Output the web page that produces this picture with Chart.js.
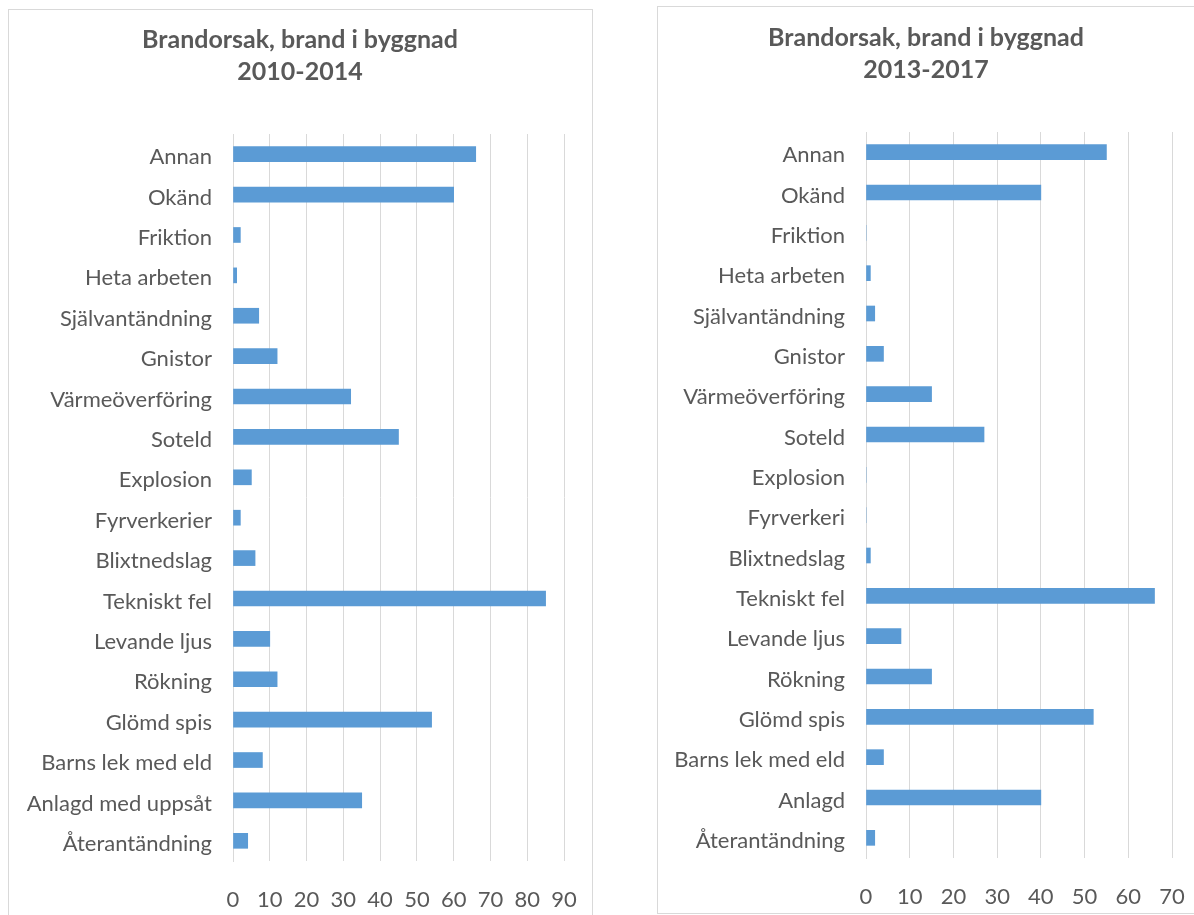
<!DOCTYPE html>
<html>
<head>
<meta charset="utf-8">
<script src="https://cdn.jsdelivr.net/npm/chart.js@4"></script>
<style>
  html, body { margin: 0; padding: 0; background: #ffffff; overflow: hidden; }
  body { width: 1194px; height: 915px; position: relative; }
  .box { position: absolute; border: 1px solid #d9d9d9; background: #fff; box-sizing: border-box; }
  #box1 { left: 8px; top: 9px; width: 585px; height: 930px; }
  #box2 { left: 657px; top: 6px; width: 560px; height: 908px; }
  canvas { position: absolute; }
  #c1 { left: 9px; top: 10px; }
  #c2 { left: 658px; top: 7px; }
</style>
</head>
<body>
<div class="box" id="box1"></div>
<div class="box" id="box2"></div>
<canvas id="c1" width="582" height="905"></canvas>
<canvas id="c2" width="536" height="905"></canvas>
<script>
const titleLeft = ["Brandorsak, brand i byggnad", "2010-2014"];
const titleRight = ["Brandorsak, brand i byggnad", "2013-2017"];

const categoriesLeft = ["Annan", "Okänd", "Friktion", "Heta arbeten", "Självantändning", "Gnistor",
  "Värmeöverföring", "Soteld", "Explosion", "Fyrverkerier", "Blixtnedslag", "Tekniskt fel",
  "Levande ljus", "Rökning", "Glömd spis", "Barns lek med eld", "Anlagd med uppsåt", "Återantändning"];
const valuesLeft = [66, 60, 2, 1, 7, 12, 32, 45, 5, 2, 6, 85, 10, 12, 54, 8, 35, 4];

const categoriesRight = ["Annan", "Okänd", "Friktion", "Heta arbeten", "Självantändning", "Gnistor",
  "Värmeöverföring", "Soteld", "Explosion", "Fyrverkeri", "Blixtnedslag", "Tekniskt fel",
  "Levande ljus", "Rökning", "Glömd spis", "Barns lek med eld", "Anlagd", "Återantändning"];
const valuesRight = [55, 40, 0, 1, 2, 4, 15, 27, 0, 0, 1, 66, 8, 15, 52, 4, 40, 2];

const maxLeft = 90;
const maxRight = 70;

const TEXT = '#595959';
const GRID = '#d9d9d9';
const BAR = '#5b9bd5';
const FONT = 'Lato, "Open Sans", sans-serif';

function makeChart(id, title, labels, values, max, yWidth, padRight, titleTop) {
  return new Chart(document.getElementById(id), {
    type: 'bar',
    data: {
      labels: labels,
      datasets: [{
        data: values,
        backgroundColor: BAR,
        borderWidth: 0,
        barThickness: 15
      }]
    },
    options: {
      indexAxis: 'y',
      responsive: false,
      animation: false,
      devicePixelRatio: 1,
      layout: { padding: 0 },
      plugins: {
        legend: { display: false },
        tooltip: { enabled: false },
        title: {
          display: true,
          text: title,
          color: TEXT,
          font: { family: FONT, size: 25, weight: 'bold', lineHeight: 1.28 },
          padding: { top: titleTop, bottom: 46 }
        }
      },
      scales: {
        x: {
          min: 0,
          max: max,
          ticks: {
            stepSize: 10,
            color: TEXT,
            font: { family: FONT, size: 22 },
            padding: 26,
            maxRotation: 0
          },
          grid: { color: GRID, lineWidth: 1, drawTicks: false },
          border: { display: false },
          afterFit: function (s) { s.height = 54; s.paddingLeft = 0; s.paddingRight = padRight; }
        },
        y: {
          ticks: {
            color: TEXT,
            font: { family: FONT, size: 22 },
            padding: 21,
            labelOffset: 3,
            autoSkip: false
          },
          grid: { display: false, drawTicks: false },
          border: { display: true, color: GRID, width: 1 },
          afterFit: function (s) { s.width = yWidth; s.paddingTop = 0; s.paddingBottom = 0; }
        }
      }
    }
  });
}

makeChart('c1', titleLeft, categoriesLeft, valuesLeft, maxLeft, 224, 27, 14);
makeChart('c2', titleRight, categoriesRight, valuesRight, maxRight, 208, 22, 15);
</script>
</body>
</html>
